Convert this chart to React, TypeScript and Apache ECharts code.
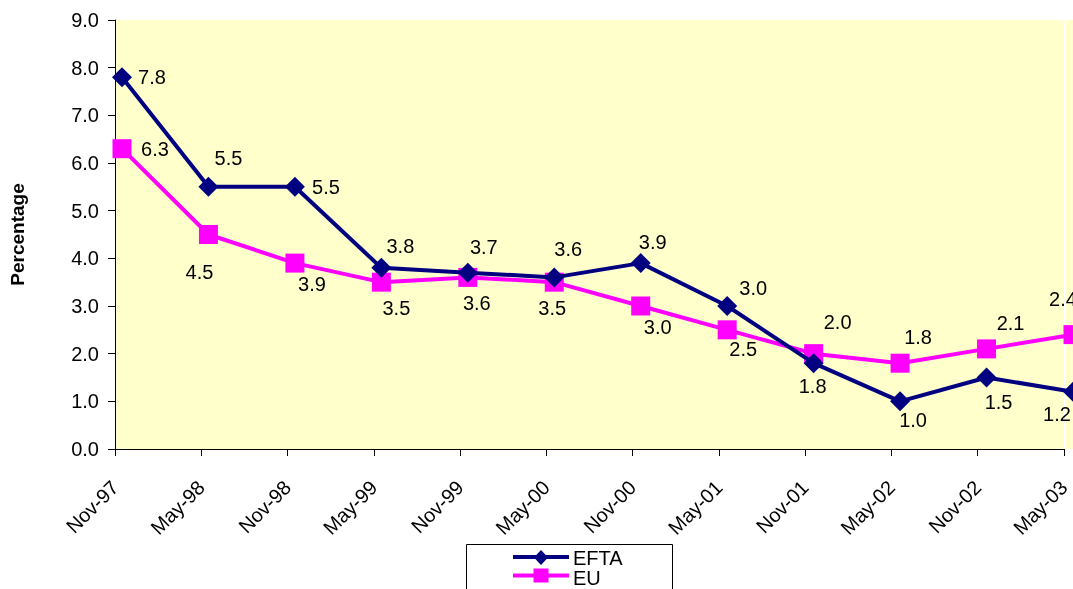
import React, { useEffect, useRef } from "react";
import * as echarts from "echarts";

const categories = ["Nov-97", "May-98", "Nov-98", "May-99", "Nov-99", "May-00", "Nov-00", "May-01", "Nov-01", "May-02", "Nov-02", "May-03"];
const eftaValues = [7.8, 5.5, 5.5, 3.8, 3.7, 3.6, 3.9, 3.0, 1.8, 1.0, 1.5, 1.2];
const euValues = [6.3, 4.5, 3.9, 3.5, 3.6, 3.5, 3.0, 2.5, 2.0, 1.8, 2.1, 2.4];
const eftaLabelOffsets = [[30, 0], [20, -29], [31, 0], [19, -22], [16, -26], [14, -28], [12, -21], [26, -18], [-1, 23], [13, 19], [12, 24], [-16, 22]];
const euLabelOffsets = [[33, 0], [-9, 37], [17, 21], [15, 26], [9, 26], [-2, 26], [17, 21], [16, 19], [24, -32], [18, -26], [24, -26], [-10, -36]];
const yTicks = { min: 0, max: 9, interval: 1 };
const seriesNames = ["EFTA", "EU"];

const FONT = "Liberation Sans, Arial, sans-serif";
const NAVY = "#000080";
const MAGENTA = "#FF00FF";

export default function App() {
  const ref = useRef<HTMLDivElement>(null);
  useEffect(() => {
    if (!ref.current) return;
    const chart = echarts.init(ref.current, null, { renderer: "svg" });
    const mkData = (vals: number[], offs: number[][]) =>
      vals.map((v, i) => ({ value: v, label: { offset: offs[i] } }));
    const labelStyle = {
      show: true,
      position: "inside",
      color: "#000",
      fontSize: 20,
      fontFamily: FONT,
      formatter: (p: any) => Number(p.value).toFixed(1),
    };
    chart.setOption({
      animation: false,
      textStyle: { fontFamily: FONT },
      grid: [
        { left: 115, top: 20, width: 951, height: 429, show: true, backgroundColor: "#FFFFCC", borderWidth: 0 },
        { left: 122, top: 20, width: 951, height: 429, show: false },
      ],
      graphic: [
        { type: "rect", z: -10, shape: { x: 1066, y: 20, width: 10, height: 429 }, style: { fill: "#FFFFCC" } },
        { type: "rect", z: 10, shape: { x: 466.5, y: 544.5, width: 206, height: 60 }, style: { fill: "#fff", stroke: "#000", lineWidth: 1 } },
        { type: "line", z: 11, shape: { x1: 513, y1: 557, x2: 569, y2: 557 }, style: { stroke: NAVY, lineWidth: 4 } },
        { type: "polygon", z: 12, shape: { points: [[541, 550], [548, 557.5], [541, 565], [534, 557.5]] }, style: { fill: NAVY } },
        { type: "text", z: 12, x: 573, y: 558, style: { text: seriesNames[0], fontSize: 20, lineHeight: 18, fontFamily: FONT, fill: "#000", verticalAlign: "middle", align: "left" } },
        { type: "line", z: 11, shape: { x1: 513, y1: 575.5, x2: 569, y2: 575.5 }, style: { stroke: MAGENTA, lineWidth: 4 } },
        { type: "rect", z: 12, shape: { x: 533.5, y: 568.5, width: 15, height: 14 }, style: { fill: MAGENTA } },
        { type: "text", z: 12, x: 573, y: 578, style: { text: seriesNames[1], fontSize: 20, lineHeight: 18, fontFamily: FONT, fill: "#000", verticalAlign: "middle", align: "left" } },
      ],
      xAxis: [
        {
          type: "category",
          gridIndex: 0,
          data: categories,
          boundaryGap: false,
          axisLine: { lineStyle: { color: "#000", width: 1 } },
          axisTick: { show: true, length: 7, lineStyle: { color: "#000" } },
          axisLabel: { rotate: 45, fontSize: 20, color: "#000", fontFamily: FONT, margin: 35, interval: 0 },
          splitLine: { show: false },
        },
        {
          type: "category",
          gridIndex: 1,
          data: categories,
          boundaryGap: false,
          show: false,
        },
      ],
      yAxis: [
        {
          type: "value",
          gridIndex: 0,
          min: yTicks.min,
          max: yTicks.max,
          interval: yTicks.interval,
          name: "Percentage",
          nameLocation: "middle",
          nameGap: 88,
          nameTextStyle: { fontSize: 19, fontWeight: "bold", color: "#000", fontFamily: FONT },
          axisLine: { show: true, lineStyle: { color: "#000", width: 1 } },
          axisTick: { show: true, length: 7, lineStyle: { color: "#000" } },
          axisLabel: { fontSize: 20, color: "#000", fontFamily: FONT, margin: 16, formatter: (v: number) => v.toFixed(1) },
          splitLine: { show: false },
        },
        {
          type: "value",
          gridIndex: 1,
          min: yTicks.min,
          max: yTicks.max,
          interval: yTicks.interval,
          show: false,
          splitLine: { show: false },
        },
      ],
      series: [
        {
          name: seriesNames[1],
          type: "line",
          xAxisIndex: 1,
          yAxisIndex: 1,
          data: mkData(euValues, euLabelOffsets),
          symbol: "rect",
          symbolSize: 19,
          clip: false,
          lineStyle: { color: MAGENTA, width: 4 },
          itemStyle: { color: MAGENTA },
          label: labelStyle,
          z: 2,
        },
        {
          name: seriesNames[0],
          type: "line",
          xAxisIndex: 1,
          yAxisIndex: 1,
          data: mkData(eftaValues, eftaLabelOffsets),
          symbol: "diamond",
          symbolSize: 20,
          clip: false,
          lineStyle: { color: NAVY, width: 4 },
          itemStyle: { color: NAVY },
          label: labelStyle,
          z: 3,
        },
      ],
    });
    return () => chart.dispose();
  }, []);
  return <div ref={ref} style={{ position: "fixed", left: 0, top: 0, width: 1073, height: 589 }} />;
}
